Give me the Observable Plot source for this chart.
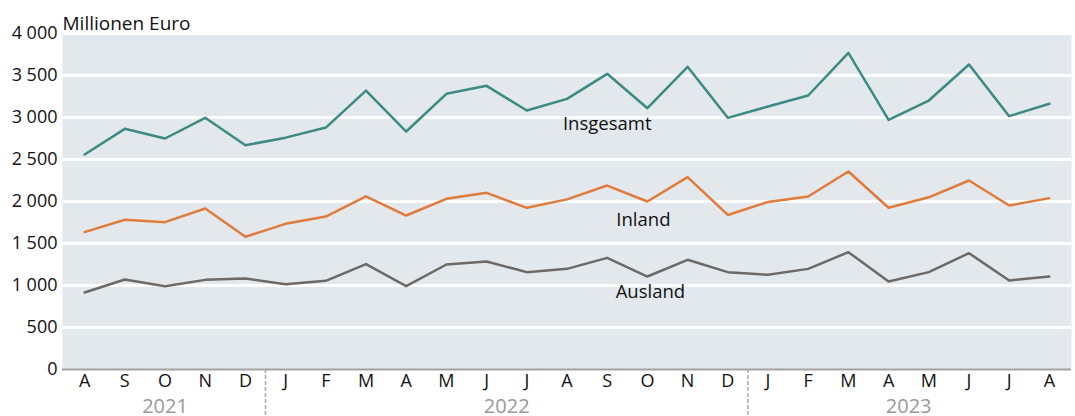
<!DOCTYPE html>
<html><head><meta charset="utf-8">
<script src="https://cdn.jsdelivr.net/npm/d3@7"></script>
<script src="https://cdn.jsdelivr.net/npm/@observablehq/plot@0.6"></script>
<style>
body{margin:0;background:#fff;}
svg{font-family:"Source Sans Pro","Open Sans",sans-serif;}
</style></head>
<body><div id="chart"></div>
<script>
const months = ["A","S","O","N","D","J","F","M","A","M","J","J","A","S","O","N","D","J","F","M","A","M","J","J","A"];
const years = [2021,2021,2021,2021,2021,2022,2022,2022,2022,2022,2022,2022,2022,2022,2022,2022,2022,2023,2023,2023,2023,2023,2023,2023,2023];
const insgesamt = [2560,2865,2750,2996,2670,2760,2880,3320,2833,3282,3377,3083,3222,3520,3111,3603,2996,3131,3262,3770,2972,3202,3631,3016,3163];
const inland = [1635,1782,1754,1917,1580,1734,1821,2060,1833,2032,2103,1925,2025,2190,2000,2290,1840,1995,2060,2357,1925,2050,2250,1952,2040];
const ausland = [917,1071,992,1067,1083,1016,1056,1255,992,1250,1286,1159,1198,1329,1107,1306,1159,1127,1198,1397,1048,1159,1385,1060,1107];
const yTicks = [0,500,1000,1500,2000,2500,3000,3500,4000];

const series = [
  {name:"Insgesamt", values:insgesamt, color:"#3b8a83"},
  {name:"Inland", values:inland, color:"#e07b3c"},
  {name:"Ausland", values:ausland, color:"#6d6966"}
];
const rows = series.flatMap(s => s.values.map((v,i) => ({i, v, name:s.name})));
const idx = months.map((m,i)=>i);
const yearList = [...new Set(years)];
const yearMid = yearList.map(y => ({year:y, i: d3.mean(idx.filter(i=>years[i]===y))}));
const seps = idx.filter(i => i>0 && years[i]!==years[i-1]).map(i => i-0.5);
const loc = d3.formatLocale({decimal:",", thousands:" ", grouping:[3], currency:["","€"]});
const fmt = loc.format(",d");
const FONT = '"Source Sans Pro","Open Sans",sans-serif';

const plot = Plot.plot({
  width:1075, height:416,
  marginLeft:62, marginRight:4, marginTop:33, marginBottom:47,
  style:{fontSize:"18px", fontFamily:FONT, color:"#111", background:"#fff"},
  x:{type:"linear", domain:[-0.55, 24.55], axis:null},
  y:{domain:[0,4000], axis:null},
  color:{domain:series.map(s=>s.name), range:series.map(s=>s.color)},
  marks:[
    Plot.frame({fill:"#e3e8ec", stroke:null}),
    Plot.ruleY(yTicks.filter(t=>t>0), {stroke:"#fff", strokeWidth:3}),
    Plot.ruleY([0], {stroke:"#a3a3a3", strokeWidth:2}),
    Plot.axisY(yTicks, {label:null, tickSize:0, tickPadding:5, tickFormat:fmt, fontSize:18, fill:"#111"}),
    Plot.axisX(idx, {label:null, tickSize:0, tickPadding:5, tickFormat:i=>months[i], fontSize:18, fill:"#111"}),
    Plot.axisX(seps, {label:null, tickSize:47, fill:"none", stroke:"#aaa", strokeWidth:1.5, strokeDasharray:"4,2"}),
    Plot.text(yearMid, {x:"i", frameAnchor:"bottom", text:d=>String(d.year), dy:37, fill:"#999", fontSize:20, lineAnchor:"middle"}),
    Plot.line(rows, {x:"i", y:"v", z:"name", stroke:"name", strokeWidth:2.5, curve:"linear"}),
    Plot.text(["Millionen Euro"], {frameAnchor:"top-left", textAnchor:"start", lineAnchor:"bottom", dy:-4, fontSize:19, fill:"#111"}),
    Plot.text([{i:13, v:2920, t:"Insgesamt"}], {x:"i", y:"v", text:"t", fontSize:18.5, fill:"#111"}),
    Plot.text([{i:14, v:1774, t:"Inland"}], {x:"i", y:"v", text:"t", dx:-4, fontSize:18.5, fill:"#111"}),
    Plot.text([{i:14, v:917, t:"Ausland"}], {x:"i", y:"v", text:"t", dx:3, fontSize:18.5, fill:"#111"})
  ]
});
document.getElementById("chart").appendChild(plot);
</script></body></html>
